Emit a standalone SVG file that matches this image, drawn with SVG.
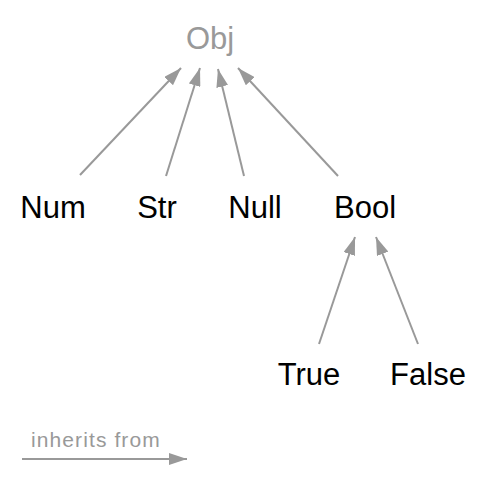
<svg xmlns="http://www.w3.org/2000/svg" width="487" height="490" viewBox="0 0 487 490">
<defs>
<marker id="ah" markerWidth="18" markerHeight="12" refX="18" refY="6" orient="auto" markerUnits="userSpaceOnUse">
<path d="M0,0 L18,6 L0,12 Z" fill="#999"/>
</marker>
<style>
.lbl{font-family:"Liberation Sans",Arial,sans-serif;font-size:31px;fill:#000;text-anchor:middle}
.obj{fill:#999}
.edge{stroke:#999;stroke-width:2;fill:none;marker-end:url(#ah)}
.leg{font-family:"Liberation Sans",Arial,sans-serif;font-size:21px;letter-spacing:1.1px;fill:#999}
</style>
</defs>
<rect width="487" height="490" fill="#fff"/>
<g id="connectors">
<line class="edge" x1="80" y1="175" x2="181" y2="68"/>
<line class="edge" x1="166" y1="176" x2="200" y2="68"/>
<line class="edge" x1="244" y1="176" x2="218" y2="69"/>
<line class="edge" x1="338" y1="176" x2="238" y2="68"/>
<line class="edge" x1="319" y1="344" x2="355" y2="237"/>
<line class="edge" x1="418" y1="344" x2="376" y2="237"/>
</g>
<g id="Obj"><text class="lbl obj" x="210" y="49">Obj</text></g>
<g id="Num"><text class="lbl" x="53" y="218">Num</text></g>
<g id="Str"><text class="lbl" x="157" y="218">Str</text></g>
<g id="Null"><text class="lbl" x="255" y="218">Null</text></g>
<g id="Bool"><text class="lbl" x="365" y="218">Bool</text></g>
<g id="True"><text class="lbl" x="309" y="385">True</text></g>
<g id="False"><text class="lbl" x="428" y="385">False</text></g>
<g id="legend">
<text class="leg" x="31" y="447">inherits from</text>
<line class="edge" x1="22" y1="459" x2="187" y2="459"/>
</g>
</svg>
